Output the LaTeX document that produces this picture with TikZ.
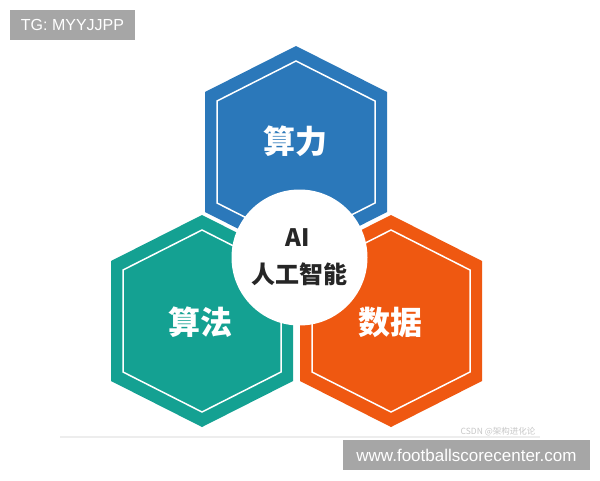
\documentclass[tikz,border=0pt]{standalone}
\usepackage{fontspec}
\newfontfamily\cjk{Noto Sans CJK SC}
\newfontfamily\wmfont{Liberation Sans}
\definecolor{hexblue}{HTML}{2B78BA}
\definecolor{hexteal}{HTML}{14A192}
\definecolor{hexorange}{HTML}{EF5811}
\definecolor{wmgray}{HTML}{A6A6A6}
\tikzset{
  hexlabel/.style={text=white,font=\cjk\bfseries\fontsize{32}{32}\selectfont,inner sep=0pt},
  ailabel/.style={text=black!85,font=\cjk\bfseries\fontsize{24}{24}\selectfont,inner sep=0pt},
  wmbox/.style={fill=wmgray,text=white,inner sep=0pt,minimum height=30pt},
  hexline/.style={white,line width=1.5pt,line join=miter}
}
\begin{document}
\begin{tikzpicture}[x=1pt,y=-1pt]
  \useasboundingbox[fill=white] (0,0) rectangle (600,480);
  %esagoni
  \foreach \cx/\cy/\col in {296/152/hexblue, 202/321/hexteal, 391/321/hexorange}{
    \fill[\col,shift={(\cx,\cy)}] (-91,-60) -- (0,-106) -- (91,-60) -- (91,60) -- (0,106) -- (-91,60) -- cycle;
    \draw[hexline,shift={(\cx,\cy)}] (-79,-51) -- (0,-91) -- (79,-51) -- (79,51) -- (0,91) -- (-79,51) -- cycle;
  }
  \node[hexlabel] (suanli) at (295,141) {算力};
  \node[hexlabel] (suanfa) at (200,322) {算法};
  \node[hexlabel] (shuju) at (390,322) {数据};
  %cerchio
  \node[circle,fill=white,inner sep=0pt,minimum size=136pt] (ai) at (299.5,257.5) {};
  \node[ailabel] (aitxt) at (298,238) {AI};
  \node[ailabel] (aicn) at (299,274) {人工智能};
  %fondo
  \draw[black!7,line width=2pt] (60,437) -- (540,437);
  \node[text=black!22,font=\cjk\fontsize{8.5}{8.5}\selectfont,inner sep=0pt] (csdn) at (498,431.5) {CSDN @架构进化论};
  %filigrane
  \node[wmbox,minimum width=125pt,font=\wmfont\fontsize{16}{16}\selectfont] (tg) at (72.5,25) {TG: MYYJJPP};
  \node[wmbox,minimum width=247pt,font=\wmfont\fontsize{17}{17}\selectfont] (www) at (466.5,455) {www.footballscorecenter.com};
\end{tikzpicture}
\end{document}
